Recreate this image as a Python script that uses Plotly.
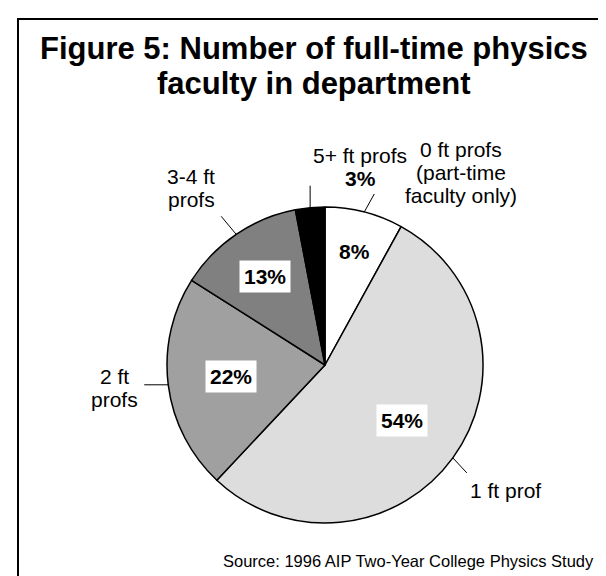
import math
import plotly.graph_objects as go

# ---- data ----
categories = ["0 ft profs", "1 ft prof", "2 ft profs", "3-4 ft profs", "5+ ft profs"]
values = [8, 54, 22, 13, 3]
pct_text = ["8%", "54%", "22%", "13%", "3%"]
outside_text = ["0 ft profs<br>(part-time<br>faculty only)", "1 ft prof", "2 ft<br>profs",
                "3-4 ft<br>profs", "5+ ft profs<br><b>3%</b>"]
title_lines = ["Figure 5: Number of full-time physics", "faculty in department"]
source_text = "Source: 1996 AIP Two-Year College Physics Study"

# ---- style ----
colors = ["#FFFFFF", "#DDDDDD", "#A0A0A0", "#808080", "#000000"]
pct_radius = [0.74, 0.60, 0.60, 0.68, None]            # inside label radius (fraction of R)
leader_vec = [(10, -18), (14, 15), (-24, 0), (-15, -18), (0, -22)]   # px from slice edge
label_vec = [(87, -21), (39, 18), (-30, 3), (-30, -28), (50, -19)]   # px from leader end
LINE_GAP = 23

W, H = 606, 576
ML, MR, MT, MB = 159, 131, 199, 61
PW = W - ML - MR
PH = H - MT - MB
FONT = "Liberation Sans, Arial, sans-serif"


def px(p):
    return (p - ML) / PW


def py(p):
    return (H - MB - p) / PH


fig = go.Figure(go.Pie(
    labels=categories, values=values, sort=False, direction="clockwise", rotation=0,
    marker=dict(colors=colors, line=dict(color="#000000", width=1.5)),
    textinfo="none", hoverinfo="skip", showlegend=False,
    domain=dict(x=[0, 1], y=[0, 1]),
))

total = sum(values)
annotations = []
shapes = []
cum = 0
for i, v in enumerate(values):
    mid = (cum + v / 2) / total
    cum += v
    th = math.radians(90 - 360 * mid)
    c, s = math.cos(th), math.sin(th)
    if pct_radius[i] is not None:
        f = pct_radius[i]
        annotations.append(dict(
            x=0.5 + 0.5 * f * c, y=0.5 + 0.5 * f * s, xref="paper", yref="paper",
            text="<b>%s</b>" % pct_text[i], showarrow=False,
            font=dict(family=FONT, size=21, color="#000000"),
            bgcolor="#FFFFFF" if colors[i] != "#FFFFFF" else "rgba(0,0,0,0)",
            borderpad=4, xanchor="center", yanchor="middle"))
    # leader line (edge of slice -> outward)
    x0, y0 = 0.5 + 0.5 * c, 0.5 + 0.5 * s
    ldx, ldy = leader_vec[i]
    x1, y1 = x0 + ldx / PW, y0 - ldy / PH
    shapes.append(dict(type="line", xref="paper", yref="paper", x0=x0, y0=y0, x1=x1, y1=y1,
                       line=dict(color="#000000", width=1)))
    # category label, one annotation per line for tight line spacing
    tdx, tdy = label_vec[i]
    lines = outside_text[i].split("<br>")
    n = len(lines)
    for k, ln in enumerate(lines):
        off = (k - (n - 1) / 2) * LINE_GAP
        annotations.append(dict(
            x=x1 + tdx / PW, y=y1 - (tdy + off) / PH, xref="paper", yref="paper",
            text=ln, showarrow=False,
            font=dict(family=FONT, size=21, color="#000000"),
            xanchor="center", yanchor="middle"))

# title (two lines)
for k, t in enumerate(title_lines):
    annotations.append(dict(
        x=px(306), y=py(40 + 36 * k), xref="paper", yref="paper",
        text="<b>%s</b>" % t, showarrow=False,
        font=dict(family=FONT, size=31, color="#000000"),
        xanchor="center", yanchor="middle"))

# source note
annotations.append(dict(
    x=px(588), y=py(553), xref="paper", yref="paper",
    text=source_text, showarrow=False,
    font=dict(family=FONT, size=16.5, color="#000000"), xanchor="right", yanchor="middle"))

# frame
shapes.append(dict(type="rect", xref="paper", yref="paper",
                   x0=px(10), x1=px(601), y0=py(600), y1=py(11),
                   line=dict(color="#000000", width=2), fillcolor="rgba(0,0,0,0)"))

fig.update_layout(
    width=W, height=H, margin=dict(l=ML, r=MR, t=MT, b=MB),
    paper_bgcolor="#FFFFFF", plot_bgcolor="#FFFFFF",
    annotations=annotations, shapes=shapes,
)
fig.write_html("out.html")
